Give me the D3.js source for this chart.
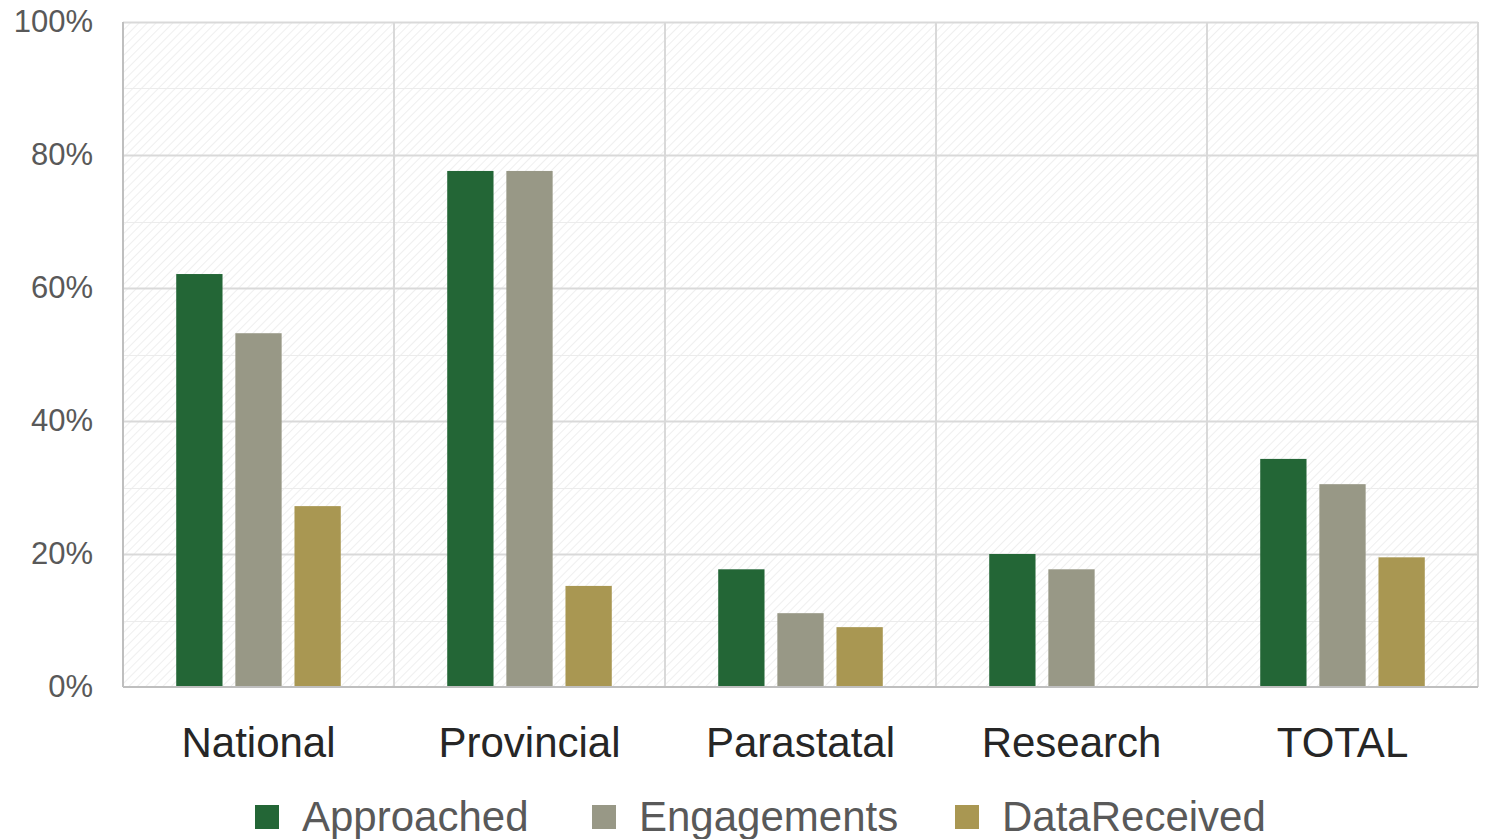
<!DOCTYPE html>
<html><head><meta charset="utf-8">
<script src="https://cdn.jsdelivr.net/npm/d3@7"></script>
<style>html,body{margin:0;padding:0;background:#fff;}svg{display:block;font-family:Arial,"Liberation Sans",sans-serif;}</style>
</head><body>
<svg id="c" width="1488" height="839"></svg>
<script>
const categories = ["National","Provincial","Parastatal","Research","TOTAL"];
const seriesNames = ["Approached","Engagements","DataReceived"];
const approached = [62.1, 77.6, 17.7, 20.0, 34.3];
const engagements = [53.2, 77.6, 11.1, 17.7, 30.5];
const dataReceived = [27.2, 15.2, 9.0, 0, 19.5];
const yTicks = [0,20,40,60,80,100];
const colors = ["#236636","#989886","#a99752"];

const series = [approached, engagements, dataReceived];
const svg = d3.select("#c");
const m = {l:123, r:1478, t:22, b:687};

const defs = svg.append("defs");
const pat = defs.append("pattern").attr("id","hatch").attr("patternUnits","userSpaceOnUse")
  .attr("width",6).attr("height",6).attr("patternTransform","rotate(45)");
pat.append("rect").attr("width",6).attr("height",6).attr("fill","#ffffff");
pat.append("line").attr("x1",0).attr("y1",0).attr("x2",0).attr("y2",6).attr("stroke","#efefef").attr("stroke-width",2);

const x0 = d3.scaleBand().domain(categories).range([m.l,m.r]).paddingInner(0).paddingOuter(0);
const x1 = d3.scaleBand().domain(seriesNames).range([0,x0.bandwidth()]).paddingInner(0.217).paddingOuter(0.9);
const y = d3.scaleLinear().domain([0,100]).range([m.b,m.t]);

svg.append("rect").attr("x",m.l).attr("y",m.t).attr("width",m.r-m.l).attr("height",m.b-m.t).attr("fill","url(#hatch)");

// minor gridlines
const minor = d3.range(10,100,20);
svg.append("g").selectAll("line").data(minor).join("line")
  .attr("x1",m.l).attr("x2",m.r).attr("y1",d=>Math.round(y(d))+0.5).attr("y2",d=>Math.round(y(d))+0.5)
  .attr("stroke","#ececec").attr("stroke-width",1);
// major gridlines
svg.append("g").selectAll("line").data(yTicks.filter(d=>d>0)).join("line")
  .attr("x1",m.l).attr("x2",m.r).attr("y1",d=>Math.round(y(d))+0.5).attr("y2",d=>Math.round(y(d))+0.5)
  .attr("stroke","#d9d9d9").attr("stroke-width",2);
// vertical gridlines
const vx = categories.map(c=>x0(c)).concat([m.r]);
svg.append("g").selectAll("line").data(vx).join("line")
  .attr("x1",d=>d).attr("x2",d=>d).attr("y1",m.t).attr("y2",m.b)
  .attr("stroke","#d9d9d9").attr("stroke-width",2);

// bars
categories.forEach((c,i)=>{
  seriesNames.forEach((s,j)=>{
    const v = series[j][i];
    if(v<=0) return;
    svg.append("rect").attr("x",x0(c)+x1(s)).attr("width",x1.bandwidth())
      .attr("y",y(v)).attr("height",y(0)-y(v)).attr("fill",colors[j]);
  });
});

// axes lines
svg.append("line").attr("x1",m.l).attr("x2",m.r).attr("y1",m.b).attr("y2",m.b).attr("stroke","#bfbfbf").attr("stroke-width",2);
svg.append("line").attr("x1",m.l).attr("x2",m.l).attr("y1",m.t).attr("y2",m.b).attr("stroke","#bfbfbf").attr("stroke-width",2);

// y labels
const yAxis = d3.axisLeft(y).tickValues(yTicks).tickFormat(d=>d+"%").tickSize(0).tickPadding(30);
const ga = svg.append("g").attr("transform",`translate(${m.l},0)`).call(yAxis);
ga.select(".domain").remove();
ga.selectAll("text").attr("font-size",31).attr("fill","#595959").attr("font-family","Arial, 'Liberation Sans', sans-serif");

// x labels
const xAxis = d3.axisBottom(x0).tickSize(0).tickPadding(40);
const gx = svg.append("g").attr("transform",`translate(0,${m.b})`).call(xAxis);
gx.select(".domain").remove();
gx.selectAll("text").attr("font-size",42).attr("fill","#262626").attr("font-family","Arial, 'Liberation Sans', sans-serif");

// legend
const legX = [255, 592, 955];
const lg = svg.append("g");
seriesNames.forEach((s,j)=>{
  lg.append("rect").attr("x",legX[j]).attr("y",805).attr("width",24).attr("height",24).attr("fill",colors[j]);
  lg.append("text").attr("x",legX[j]+47).attr("y",831).attr("font-size",42).attr("fill","#595959").text(s);
});
</script>
</body></html>
